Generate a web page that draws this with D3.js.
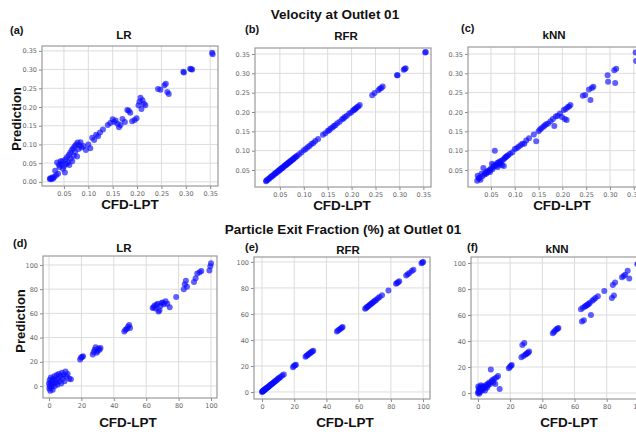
<!DOCTYPE html>
<html>
<head>
<meta charset="utf-8">
<script src="https://cdn.jsdelivr.net/npm/d3@7"></script>
<style>
  body { margin: 0; background: #fff; }
  svg { display: block; }
  .tick text { font-family: "DejaVu Sans", sans-serif; font-size: 6.5px; fill: #666; }
  .tick line { stroke: #888; }
  .domain { display: none; }
  .lbl { font-family: "Liberation Sans", Arial, sans-serif; font-weight: bold; fill: #111; }
</style>
</head>
<body>
<div id="chart"></div>
<script>
// velocity at outlet 01: CFD-LPT values and model predictions
const velCFD = [0.021,0.022,0.024,0.026,0.028,0.030,0.032,0.034,0.036,0.038,0.040,0.041,0.043,0.045,0.047,0.048,0.050,0.052,0.053,0.055,0.056,0.058,0.060,0.061,0.063,0.064,0.066,0.067,0.069,0.070,0.072,0.073,0.075,0.077,0.078,0.080,0.082,0.084,0.086,0.090,0.095,0.100,0.104,0.108,0.112,0.116,0.120,0.124,0.130,0.140,0.145,0.150,0.153,0.156,0.160,0.163,0.166,0.170,0.175,0.180,0.183,0.186,0.190,0.195,0.199,0.203,0.205,0.207,0.209,0.211,0.214,0.217,0.243,0.248,0.256,0.259,0.262,0.265,0.295,0.296,0.309,0.311,0.313,0.354,0.355];
const velLR  = [0.008,0.010,0.007,0.012,0.009,0.013,0.030,0.018,0.052,0.022,0.045,0.040,0.055,0.048,0.056,0.035,0.042,0.025,0.060,0.048,0.066,0.052,0.072,0.045,0.078,0.062,0.085,0.055,0.090,0.070,0.095,0.080,0.100,0.068,0.105,0.088,0.098,0.106,0.092,0.096,0.085,0.100,0.090,0.118,0.112,0.126,0.122,0.132,0.140,0.152,0.157,0.167,0.160,0.164,0.155,0.146,0.152,0.168,0.160,0.192,0.190,0.185,0.162,0.165,0.170,0.205,0.214,0.225,0.195,0.218,0.209,0.205,0.248,0.246,0.258,0.262,0.240,0.235,0.294,0.292,0.302,0.301,0.300,0.345,0.341];
const velRFR = [0.021,0.023,0.024,0.027,0.028,0.031,0.032,0.035,0.036,0.039,0.040,0.042,0.043,0.046,0.047,0.049,0.050,0.053,0.053,0.056,0.056,0.059,0.060,0.062,0.063,0.065,0.066,0.068,0.069,0.071,0.072,0.074,0.075,0.078,0.078,0.081,0.082,0.085,0.086,0.091,0.095,0.101,0.104,0.109,0.112,0.117,0.120,0.125,0.130,0.141,0.145,0.151,0.153,0.157,0.160,0.164,0.166,0.171,0.175,0.181,0.183,0.187,0.190,0.196,0.199,0.204,0.205,0.208,0.209,0.212,0.214,0.218,0.243,0.249,0.256,0.260,0.262,0.266,0.295,0.295,0.309,0.311,0.313,0.354,0.355];
const velKNN = [0.022,0.035,0.028,0.030,0.025,0.040,0.034,0.055,0.038,0.042,0.040,0.046,0.044,0.048,0.050,0.045,0.054,0.066,0.052,0.058,0.062,0.100,0.060,0.064,0.068,0.058,0.070,0.064,0.072,0.066,0.074,0.062,0.076,0.060,0.080,0.082,0.084,0.086,0.088,0.092,0.096,0.104,0.106,0.110,0.114,0.118,0.118,0.126,0.132,0.142,0.124,0.150,0.155,0.158,0.162,0.165,0.168,0.170,0.176,0.182,0.164,0.188,0.190,0.196,0.187,0.205,0.182,0.208,0.179,0.212,0.214,0.218,0.242,0.244,0.258,0.231,0.262,0.265,0.295,0.278,0.308,0.275,0.312,0.354,0.332];

// particle exit fraction (%) at outlet 01
const pefCFD = [0.0,0.2,0.4,0.5,0.8,1.0,1.2,1.5,1.8,2.0,2.3,2.6,3.0,3.3,3.6,4.0,4.4,4.8,5.2,5.6,6.0,6.5,7.0,7.5,8.0,8.5,9.0,9.6,10.2,10.8,11.5,12.5,13.5,19.2,19.8,20.5,21.0,27.0,27.6,28.2,28.8,29.4,30.0,30.6,31.2,31.8,46.5,47.2,48.0,48.8,49.5,50.0,64.0,64.6,65.2,65.8,66.4,67.0,67.6,68.2,68.8,69.5,70.2,71.0,72.0,73.0,74.5,78.5,83.2,83.8,84.5,85.2,89.5,90.5,91.5,93.0,94.0,99.0,99.6,100.0];
const pefLR  = [2,-2,5,0,-4,3,7,-1,1,4,-3,6,2,8,0,5,3,9,1,6,10,4,8,2,11,6,9,4,12,8,10,6,5.5,22,23.5,24,24.5,26,28,30,32,27.5,29,31,30,31.5,45,46.5,47,49,50.5,48,64.5,65,66.5,64,67,68,61.5,62.5,66,68.5,69,67.5,70,68,65,73.5,80,84,87,82,86,89,93,94,95,95.5,99,101.5];
const pefRFR = [0,0.3,0.5,0.6,1,1.1,1.3,1.6,2,2.1,2.4,2.8,3.1,3.4,3.7,4.1,4.5,4.9,5.3,5.7,6.1,6.6,7.1,7.6,8.1,8.6,9.1,9.7,10.3,10.9,11.6,12.6,13.4,19,20,20.5,21,27,27.8,28.3,29,29.5,30,30.7,31.2,31.7,46.5,47.2,48,48.7,49.4,50,64,64.6,65.3,65.8,66.5,67,67.6,68.3,68.8,69.5,70.2,71,72,73,74.4,78,83.3,83.8,84.4,85.2,89.6,90.5,91.4,93,94,99,99.5,100];
const pefKNN = [0,5,1,3,-0.5,2,4,1,6,3,5,2,4,3,5,4,2,6,5,4,7,6,8,7,18,9,10,8,11,7,12,13,3,19,20,21,21.5,27.5,37,28.5,38.5,29.5,30,30.5,31,32,46,47,48,49,49.5,50,64.5,55,65.5,56,66.5,67,67.5,68,68.5,69.5,60,71,72,73,74.5,78.5,73,83,75,85,89,90,91,94,88,99,99.5,100];

const velTicksX = [0.05,0.10,0.15,0.20,0.25,0.30,0.35];
const velTicksYa = [0.00,0.05,0.10,0.15,0.20,0.25,0.30,0.35];
const velTicksY = [0.05,0.10,0.15,0.20,0.25,0.30,0.35];
const pefTicks = [0,20,40,60,80,100];

const models = ["LR", "RFR", "kNN"];
const tags = ["(a)", "(b)", "(c)", "(d)", "(e)", "(f)"];

const W = 636, H = 434;
const svg = d3.select("#chart").append("svg").attr("width", W).attr("height", H);

const fmt2 = d3.format(".2f");
const fmt0 = d3.format("d");

const panels = [
  {x: velCFD, y: velLR,  box: [42, 46, 176, 140],  xd: [0.005, 0.366], yd: [-0.011, 0.363], tx: velTicksX, ty: velTicksYa, f: fmt2, tag: [10, 34], title: [124, 39], xl: [130, 209]},
  {x: velCFD, y: velRFR, box: [255, 48, 176, 139], xd: [-0.002, 0.366], yd: [0.006, 0.3655], tx: velTicksX, ty: velTicksY, f: fmt2, tag: [245, 33], title: [346, 40], xl: [342, 210]},
  {x: velCFD, y: velKNN, box: [468, 47, 176, 140], xd: [0.0017, 0.3715], yd: [0.006, 0.368], tx: velTicksX, ty: velTicksY, f: fmt2, tag: [461, 32], title: [554, 39], xl: [562, 210]},
  {x: pefCFD, y: pefLR,  box: [43, 256, 174, 142], xd: [-3.7, 103.7], yd: [-9.9, 107.4], tx: pefTicks, ty: pefTicks, f: fmt0, tag: [13, 247], title: [124, 252], xl: [128, 427]},
  {x: pefCFD, y: pefRFR, box: [254, 257, 176, 142], xd: [-5, 104.3], yd: [-5.4, 103.8], tx: pefTicks, ty: pefTicks, f: fmt0, tag: [245, 251], title: [348, 254], xl: [345, 427]},
  {x: pefCFD, y: pefKNN, box: [471, 257, 175, 142], xd: [-4.3, 104.4], yd: [-4.6, 104.6], tx: pefTicks, ty: pefTicks, f: fmt0, tag: [467, 251], title: [557, 253], xl: [569, 427]}
];

panels.forEach((p, i) => {
  const [left, top, w, h] = p.box;
  const x = d3.scaleLinear().domain(p.xd).range([left, left + w]);
  const y = d3.scaleLinear().domain(p.yd).range([top + h, top]);
  const g = svg.append("g");

  // grid
  g.selectAll("line.gx").data(p.tx).enter().append("line")
    .attr("x1", d => x(d)).attr("x2", d => x(d))
    .attr("y1", top).attr("y2", top + h)
    .attr("stroke", "#dcdcdc").attr("stroke-width", 1);
  g.selectAll("line.gy").data(p.ty).enter().append("line")
    .attr("y1", d => y(d)).attr("y2", d => y(d))
    .attr("x1", left).attr("x2", left + w)
    .attr("stroke", "#dcdcdc").attr("stroke-width", 1);

  // axes
  g.append("g").attr("transform", `translate(0,${top + h})`)
    .call(d3.axisBottom(x).tickValues(p.tx).tickFormat(p.f).tickSize(3).tickPadding(2));
  g.append("g").attr("transform", `translate(${left},0)`)
    .call(d3.axisLeft(y).tickValues(p.ty).tickFormat(p.f).tickSize(3).tickPadding(2));

  // frame
  g.append("rect").attr("x", left).attr("y", top).attr("width", w).attr("height", h)
    .attr("fill", "none").attr("stroke", "#9a9a9a").attr("stroke-width", 1.2);

  // points
  g.selectAll("circle").data(p.x.map((v, k) => [v, p.y[k]])).enter().append("circle")
    .attr("cx", d => x(d[0])).attr("cy", d => y(d[1])).attr("r", 3)
    .attr("fill", "#0a0aff").attr("fill-opacity", 0.65);

  // labels
  svg.append("text").attr("class", "lbl").attr("x", p.tag[0]).attr("y", p.tag[1])
    .attr("font-size", 11).text(tags[i]);
  svg.append("text").attr("class", "lbl").attr("x", p.title[0]).attr("y", p.title[1])
    .attr("text-anchor", "middle").attr("font-size", 11.5).text(models[i % 3]);
  svg.append("text").attr("class", "lbl").attr("x", p.xl[0]).attr("y", p.xl[1])
    .attr("text-anchor", "middle").attr("font-size", 13.5).text("CFD-LPT");
});

// y labels
[[16, 119], [20, 321]].forEach(([cx, cy]) => {
  svg.append("text").attr("class", "lbl")
    .attr("transform", `translate(${cx + 5},${cy}) rotate(-90)`)
    .attr("text-anchor", "middle").attr("font-size", 13).text("Prediction");
});

// row titles
svg.append("text").attr("class", "lbl").attr("x", 335).attr("y", 19)
  .attr("text-anchor", "middle").attr("font-size", 13.5).text("Velocity at Outlet 01");
svg.append("text").attr("class", "lbl").attr("x", 343).attr("y", 234)
  .attr("text-anchor", "middle").attr("font-size", 13.5).text("Particle Exit Fraction (%) at Outlet 01");
</script>
</body>
</html>
